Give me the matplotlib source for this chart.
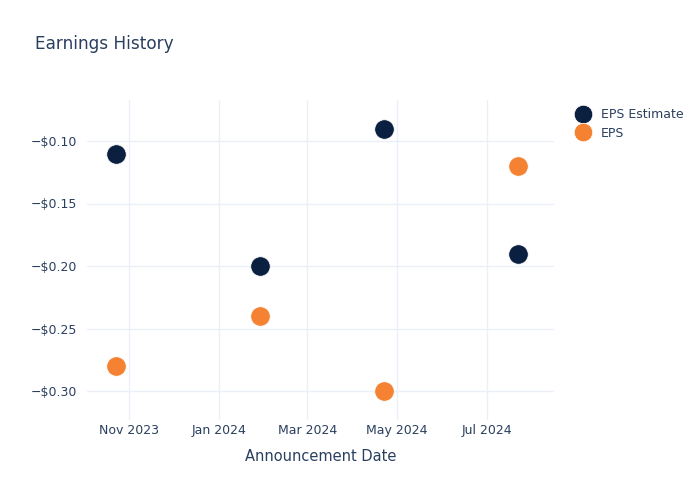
import matplotlib
matplotlib.use("Agg")
import matplotlib.pyplot as plt
import matplotlib.dates as mdates
from matplotlib.ticker import FuncFormatter, MultipleLocator
import pandas as pd

dates = ["2023-10-23", "2024-01-29", "2024-04-22", "2024-07-22"]
eps_estimate = [-0.11, -0.20, -0.09, -0.19]
eps_actual = [-0.28, -0.24, -0.30, -0.12]

x = pd.to_datetime(dates)
text_c = "#2a3f5f"
navy = "#0b1f40"
orange = "#f58232"

fig = plt.figure(figsize=(7, 5), dpi=100)
ax = fig.add_axes([87/700, 1-420/500, (554-87)/700, 320/500])

ax.plot(x, eps_estimate, "o", ms=14, color=navy, mec="white", mew=0.5, label="EPS Estimate", zorder=3)
ax.plot(x, eps_actual, "o", ms=14, color=orange, mec="white", mew=0.5, label="EPS", zorder=3)

ax.set_xlim(pd.Timestamp("2023-10-03 08:00"), pd.Timestamp("2024-08-15 12:00"))
ax.set_ylim(-0.3232, -0.0672)
ax.yaxis.set_major_locator(MultipleLocator(0.05))
ax.yaxis.set_major_formatter(FuncFormatter(lambda v, p: ("\u2212$%.2f" % abs(v)) if v < 0 else "$%.2f" % v))
ax.xaxis.set_major_locator(mdates.MonthLocator(bymonth=[1, 3, 5, 7, 9, 11]))
ax.xaxis.set_major_formatter(mdates.DateFormatter("%b %Y"))

for s in ax.spines.values():
    s.set_visible(False)
ax.grid(True, color="#ebf0f8", lw=1)
ax.set_axisbelow(True)
ax.tick_params(length=0, labelsize=9, colors=text_c)
ax.tick_params(axis="y", pad=7)
ax.tick_params(axis="x", pad=3)
ax.set_xlabel("Announcement Date", fontsize=10.5, color=text_c, labelpad=8.5)

fig.text(35/700, 1-44/500, "Earnings History", fontsize=12.2, color=text_c, va="center", ha="left")

leg = fig.legend(loc="upper left", bbox_to_anchor=(570/700, 1-103/500), frameon=False,
                 fontsize=9, labelcolor=text_c, handletextpad=0.9, labelspacing=0.45,
                 markerscale=0.95, borderaxespad=0, handlelength=1.2)

fig.savefig("out.png", dpi=100)
